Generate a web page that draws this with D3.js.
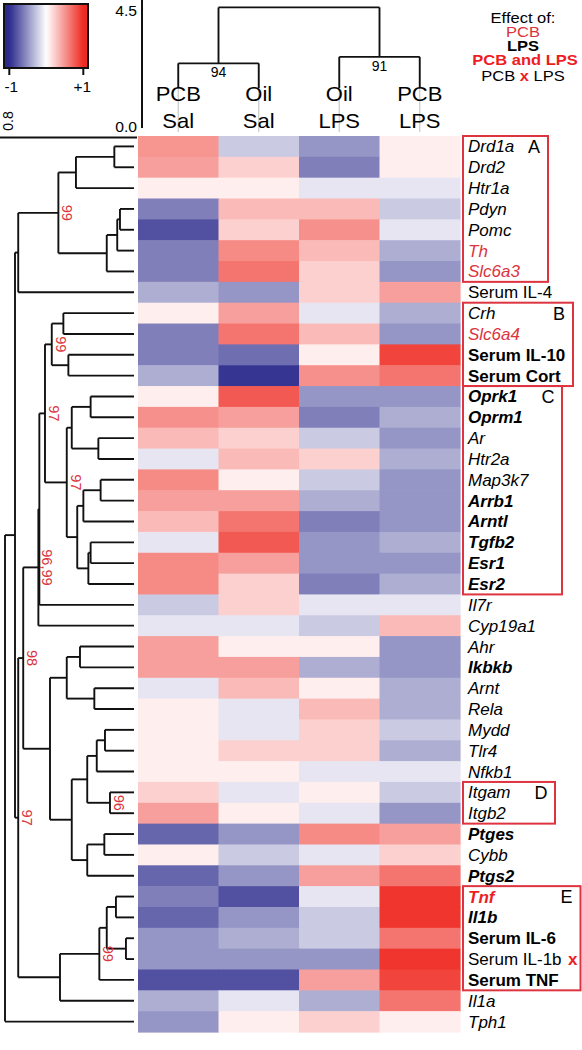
<!DOCTYPE html>
<html><head><meta charset="utf-8">
<script src="https://cdn.jsdelivr.net/npm/d3@7"></script>
<style>
body{margin:0;background:#fff}
svg{display:block}
text{font-family:"Liberation Sans",Arial,Helvetica,sans-serif}
</style>
</head><body>
<svg id="chart" width="582" height="1050"></svg>
<script>
// ---------- DATA ----------
const columns = ["PCB Sal", "Oil Sal", "Oil LPS", "PCB LPS"];
const colLine1 = ["PCB", "Oil", "Oil", "PCB"];
const colLine2 = ["Sal", "Sal", "LPS", "LPS"];

const rows = ["Drd1a","Drd2","Htr1a","Pdyn","Pomc","Th","Slc6a3","Serum IL-4",
  "Crh","Slc6a4","Serum IL-10","Serum Cort","Oprk1","Oprm1","Ar","Htr2a","Map3k7",
  "Arrb1","Arntl","Tgfb2","Esr1","Esr2","Il7r","Cyp19a1","Ahr","Ikbkb","Arnt","Rela",
  "Mydd","Tlr4","Nfkb1","Itgam","Itgb2","Ptges","Cybb","Ptgs2","Tnf","Il1b",
  "Serum IL-6","Serum IL-1b","Serum TNF","Il1a","Tph1"];

// effect: "" none, P = PCB, L = LPS, B = PCB and LPS, X = PCB x LPS
const effects = ["","","","","","P","P","",
  "","P","L","L","L","L","","","",
  "L","L","L","L","L","","","","L","","",
  "","","","","","L","","L","B","L",
  "L","X","L","",""];

const pcbSal = [0.5,0.45,0.08,-0.6,-0.82,-0.6,-0.6,-0.38,0.08,-0.6,-0.6,-0.38,0.08,0.52,0.32,-0.12,0.55,0.45,0.32,-0.12,0.55,0.55,-0.25,-0.12,0.45,0.45,-0.12,0.08,0.08,0.08,0.08,0.22,0.45,-0.72,0.08,-0.72,-0.6,-0.72,-0.5,-0.5,-0.82,-0.38,-0.5];
const oilSal = [-0.25,0.22,0.08,0.32,0.22,0.55,0.65,-0.5,0.45,0.65,-0.68,-0.95,0.78,0.45,0.22,0.32,0.08,0.45,0.65,0.78,0.45,0.22,0.22,-0.12,0.08,0.45,0.32,-0.12,-0.12,0.22,0.08,-0.12,0.08,-0.5,-0.25,-0.5,-0.82,-0.5,-0.38,-0.5,-0.82,-0.12,0.08];
const oilLps = [-0.5,-0.6,-0.12,0.32,0.52,0.32,0.22,0.22,-0.12,0.32,0.08,0.52,-0.5,-0.6,-0.25,0.22,-0.25,-0.38,-0.6,-0.5,-0.5,-0.6,-0.12,-0.25,0.08,-0.38,0.08,0.32,0.22,0.22,-0.12,0.08,-0.12,0.55,-0.12,0.45,-0.12,-0.25,-0.25,-0.5,0.45,-0.38,0.22];
const pcbLps = [0.08,0.08,-0.12,-0.25,-0.12,-0.38,-0.5,0.45,-0.38,-0.5,0.88,0.65,-0.5,-0.38,-0.5,-0.38,-0.5,-0.5,-0.5,-0.38,-0.5,-0.38,-0.12,0.32,-0.5,-0.5,-0.38,-0.38,-0.25,-0.38,-0.12,-0.25,-0.5,0.45,0.22,0.65,0.95,0.95,0.65,0.95,0.88,0.65,0.08];
const series = [pcbSal, oilSal, oilLps, pcbLps];

// dendrograms: [height, left, right, bootstrap label]
const rowTree = [0.80,
  [0.738,
    [0.718,
      [0.469, [0.360, [0.122, "Drd1a", "Drd2"], "Htr1a"],
              [0.169, [0.104, [0.087, "Pdyn", "Pomc"], "Th"], "Slc6a3"], "99"],
      "Serum IL-4"],
    [0.718,
      [0.687,
        [0.593,
          [0.587,
            [0.552,
              [0.510, [0.438, "Crh", "Slc6a4"], [0.407, "Serum IL-10", "Serum Cort"], "99"],
              [0.417,
                [0.386, [0.269, "Oprk1", "Oprm1"], [0.221, "Ar", "Htr2a"]],
                [0.352, [0.314, [0.207, "Map3k7", "Arrb1"], "Arntl"],
                        [0.283, [0.269, "Tgfb2", "Esr1"], "Esr2"]], "97"], "97"],
            "Il7r"],
          "Cyp19a1", "96,99"],
        [0.521,
          [0.417, [0.335, "Ahr", "Ikbkb"], [0.246, "Arnt", "Rela"]],
          [0.386,
            [0.290, [0.231, [0.180, "Mydd", "Tlr4"], "Nfkb1"], [0.149, "Itgam", "Itgb2", "96"]],
            [0.290, [0.184, "Ptges", "Cybb"], "Ptgs2"]]],
        "98"],
      [0.459,
        [0.215, [0.169, [0.112, "Tnf", "Il1b"], [0.050, "Serum IL-6", "Serum IL-1b"]], "Serum TNF", "99"],
        "Il1a"],
      "97"]],
  "Tph1"];

const colTree = [4.64, [2.47, "PCB Sal", "Oil Sal", "94"], [2.72, "Oil LPS", "PCB LPS", "91"]];

const boxes = [
  {name: "A", from: "Drd1a", to: "Slc6a3"},
  {name: "B", from: "Crh", to: "Serum Cort"},
  {name: "C", from: "Oprk1", to: "Esr2"},
  {name: "D", from: "Itgam", to: "Itgb2"},
  {name: "E", from: "Tnf", to: "Serum TNF"}
];

const legendTitle = "Effect of:";
const legendItems = ["PCB", "LPS", "PCB and LPS", "PCB x LPS"];
const colorTicks = [-1, 1];
const colorTickLabels = ["-1", "+1"];
const rowAxisMax = 0.8, colAxisMax = 4.5;

// ---------- LAYOUT ----------
const svg = d3.select("#chart");
const RED_P = "#dc343c", RED_B = "#ee1d23", BOX = "#de3440";
const color = d3.scaleLinear().domain([-1, 0, 1]).range(["#2b2a8c", "#ffffff", "#ee2a22"]).clamp(true);

const x = d3.scaleBand().domain(columns).range([138, 460]);
const y = d3.scaleBand().domain(rows).range([136, 1032]);
const bw = x.bandwidth(), bh = y.bandwidth();
const rx = d3.scaleLinear().domain([0, rowAxisMax]).range([134, 5]);
const cy = d3.scaleLinear().domain([0, colAxisMax]).range([127, 11]);

function stretchText(g, tx, ty, str, sx) {
  return g.append("text").attr("transform", `translate(${tx},${ty}) scale(${sx},1)`).text(str);
}

// heatmap cells
const cells = [];
rows.forEach((r, i) => columns.forEach((c, j) => cells.push({r, c, v: series[j][i]})));
svg.append("g").selectAll("rect").data(cells).join("rect")
  .attr("x", d => x(d.c)).attr("y", d => y(d.r))
  .attr("width", bw + 0.6).attr("height", bh + 0.6)
  .attr("fill", d => color(d.v));

// row dendrogram
function layoutRow(node) {
  if (typeof node === "string") return {h: 0, y: y(node) + bh / 2};
  const [h, a, b, label] = node;
  const ca = layoutRow(a), cb = layoutRow(b);
  return {h, label, kids: [ca, cb], y: (ca.y + cb.y) / 2};
}
const rRoot = layoutRow(rowTree);
const gR = svg.append("g").attr("stroke", "#111").attr("stroke-width", 1.9).attr("fill", "none");
const rLabels = svg.append("g");
(function drawR(n) {
  if (!n.kids) return;
  const X = rx(n.h);
  gR.append("line").attr("x1", X).attr("x2", X).attr("y1", n.kids[0].y).attr("y2", n.kids[1].y);
  n.kids.forEach(k => {
    gR.append("line").attr("x1", X).attr("x2", rx(k.h)).attr("y1", k.y).attr("y2", k.y);
    drawR(k);
  });
  if (n.label) {
    rLabels.append("text").attr("transform", `translate(${X + 4},${n.y}) rotate(90)`)
      .attr("text-anchor", "middle").attr("font-size", 14.5).attr("fill", RED_P).text(n.label);
  }
})(rRoot);
// row axis
svg.append("line").attr("x1", 0).attr("x2", 137).attr("y1", 137.5).attr("y2", 137.5)
  .attr("stroke", "#111").attr("stroke-width", 2);
svg.append("text").attr("transform", `translate(13,121) rotate(-90)`).attr("text-anchor", "middle")
  .attr("font-size", 14).text(rowAxisMax.toFixed(1));

// column dendrogram
function layoutCol(node) {
  if (typeof node === "string") return {h: 0, x: x(node) + bw / 2, leaf: true};
  const [h, a, b, label] = node;
  const ca = layoutCol(a), cb = layoutCol(b);
  return {h, label, kids: [ca, cb], x: (ca.x + cb.x) / 2};
}
const cRoot = layoutCol(colTree);
const gC = svg.append("g").attr("stroke", "#111").attr("stroke-width", 1.9).attr("fill", "none");
(function drawC(n) {
  if (!n.kids) return;
  const Y = cy(n.h);
  gC.append("line").attr("y1", Y).attr("y2", Y).attr("x1", n.kids[0].x).attr("x2", n.kids[1].x);
  n.kids.forEach(k => {
    if (k.leaf) {
      gC.append("line").attr("x1", k.x).attr("x2", k.x).attr("y1", Y).attr("y2", 88);
      gC.append("line").attr("x1", k.x).attr("x2", k.x).attr("y1", 88).attr("y2", cy(0) + 5)
        .attr("stroke", "#c8c8c8").attr("stroke-width", 1.2);
    } else {
      gC.append("line").attr("x1", k.x).attr("x2", k.x).attr("y1", Y).attr("y2", cy(k.h));
      drawC(k);
    }
  });
  if (n.label) {
    svg.append("text").attr("x", n.x).attr("y", Y + 14).attr("text-anchor", "middle")
      .attr("font-size", 14).text(n.label);
  }
})(cRoot);
// column axis
svg.append("line").attr("x1", 142).attr("x2", 142).attr("y1", 0).attr("y2", 128)
  .attr("stroke", "#111").attr("stroke-width", 2);
[colAxisMax, 0].forEach(v => {
  stretchText(svg, 137, cy(v) + 5, v.toFixed(1), 1.12).attr("text-anchor", "end").attr("font-size", 14);
});
// column labels
const gCL = svg.append("g").attr("text-anchor", "middle").attr("font-size", 20);
columns.forEach((c, j) => {
  stretchText(gCL, x(c) + bw / 2, 101, colLine1[j], 1.1);
  stretchText(gCL, x(c) + bw / 2, 128, colLine2[j], 1.1);
});

// row labels
const gL = svg.append("g").attr("font-size", 17);
rows.forEach((r, i) => {
  const e = effects[i];
  gL.append("text").attr("x", 468).attr("y", y(r) + bh / 2 + 6)
    .attr("font-style", r.startsWith("Serum") ? "normal" : "italic")
    .attr("font-weight", (e === "L" || e === "B") ? "bold" : "normal")
    .attr("fill", e === "P" ? RED_P : e === "B" ? RED_B : "#000")
    .text(r);
  if (e === "X") {
    gL.append("text").attr("x", 568).attr("y", y(r) + bh / 2 + 6).attr("font-weight", "bold")
      .attr("fill", RED_B).text("x");
  }
});

// boxes
const boxRight = {A: 548, B: 573, C: 562, D: 555, E: 580.5};
const gB = svg.append("g");
boxes.forEach(b => {
  const top = y(b.from), bot = y(b.to) + bh;
  gB.append("rect").attr("x", 463).attr("y", top).attr("width", boxRight[b.name] - 463)
    .attr("height", bot - top).attr("fill", "none").attr("stroke", BOX).attr("stroke-width", 2);
  gB.append("text").attr("x", boxRight[b.name] - 14).attr("y", top + bh / 2 + 6.5)
    .attr("text-anchor", "middle").attr("font-size", 18).text(b.name);
});

// color legend
const lx = d3.scaleLinear().domain([-1, 1]).range([9.3, 83.3]);
const defs = svg.append("defs");
const grad = defs.append("linearGradient").attr("id", "cg");
d3.range(0, 1.0001, 0.05).forEach(t => {
  const v = lx.invert(4 + t * 84);
  grad.append("stop").attr("offset", t).attr("stop-color", color(v));
});
svg.append("rect").attr("x", 4).attr("y", 4).attr("width", 84).attr("height", 64)
  .attr("fill", "url(#cg)").attr("stroke", "#111").attr("stroke-width", 2);
colorTicks.forEach((v, i) => {
  svg.append("line").attr("x1", lx(v)).attr("x2", lx(v)).attr("y1", 68).attr("y2", 75)
    .attr("stroke", "#111").attr("stroke-width", 2);
  stretchText(svg, lx(v) + (i === 0 ? 2 : -1), 92, colorTickLabels[i], 1.1)
    .attr("text-anchor", "middle").attr("font-size", 14);
});

// effect legend
const gE = svg.append("g").attr("text-anchor", "middle").attr("font-size", 14);
stretchText(gE, 523, 23, legendTitle, 1.18);
stretchText(gE, 523, 37, legendItems[0], 1.18).attr("fill", RED_P);
stretchText(gE, 523, 51, legendItems[1], 1.18).attr("font-weight", "bold");
stretchText(gE, 525, 65, legendItems[2], 1.18).attr("font-weight", "bold").attr("fill", RED_B);
const lt = stretchText(gE, 523, 81, "", 1.18);
const parts = legendItems[3].split(" x ");
lt.append("tspan").text(parts[0] + " ");
lt.append("tspan").attr("font-weight", "bold").attr("fill", RED_B).text("x");
lt.append("tspan").text(" " + parts[1]);
</script>
</body></html>
